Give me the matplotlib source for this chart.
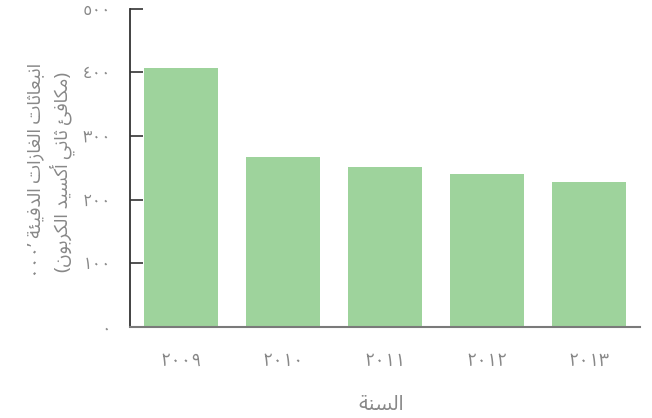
import re

import matplotlib
matplotlib.use("Agg")
import matplotlib.pyplot as plt
from matplotlib import font_manager

# greenhouse gas emissions per year ('000 t CO2e)
years = ["٢٠٠٩", "٢٠١٠", "٢٠١١", "٢٠١٢", "٢٠١٣"]
emissions = [407, 267, 251, 240, 227]
yticks = [0, 100, 200, 300, 400, 500]
ytick_labels = ["٠", "١٠٠", "٢٠٠", "٣٠٠", "٤٠٠", "٥٠٠"]

ylabel_lines = ["انبعاثات الغازات الدفيئة ’٠٠٠", "(مكافئ ثاني أكسيد الكربون)"]
xlabel = "السنة"

# presentation form start code (isolated) and number of forms per letter
FORMS = {
    "ا": (0xFE8D, 2), "أ": (0xFE83, 2), "ب": (0xFE8F, 4), "ة": (0xFE93, 2),
    "ت": (0xFE95, 4), "ث": (0xFE99, 4), "د": (0xFEA9, 2), "ر": (0xFEAD, 2),
    "ز": (0xFEAF, 2), "س": (0xFEB1, 4), "ع": (0xFEC9, 4), "غ": (0xFECD, 4),
    "ف": (0xFED1, 4), "ك": (0xFED9, 4), "ل": (0xFEDD, 4), "م": (0xFEE1, 4),
    "ن": (0xFEE5, 4), "و": (0xFEED, 2), "ي": (0xFEF1, 4), "ئ": (0xFE89, 4),
}
DIGITS = "٠١٢٣٤٥٦٧٨٩"
MIRROR = {"(": ")", ")": "("}


def shape(text):
    out = []
    for i, ch in enumerate(text):
        if ch not in FORMS:
            out.append(ch)
            continue
        base, n = FORMS[ch]
        prev = text[i - 1] if i > 0 else ""
        nxt = text[i + 1] if i + 1 < len(text) else ""
        join_prev = prev in FORMS and FORMS[prev][1] == 4
        join_next = n == 4 and nxt in FORMS
        if join_prev and join_next:
            off = 3
        elif join_prev:
            off = 1
        elif join_next:
            off = 2
        else:
            off = 0
        out.append(chr(base + off))
    return "".join(out)


def rtl(text):
    # matplotlib lays text out left to right, so shape and flip it here
    s = shape(text)[::-1]
    s = "".join(MIRROR.get(c, c) for c in s)
    return re.sub("[%s]+" % DIGITS, lambda m: m.group(0)[::-1], s)


names = {f.name for f in font_manager.fontManager.ttflist}
families = [n for n in ["Noto Sans Arabic", "Noto Sans Arabic UI"] if n in names]
plt.rcParams["font.family"] = families + ["DejaVu Sans"]

text_grey = "#888888"
bar_green = "#9ed39c"

W, H = 652, 418
fig = plt.figure(figsize=(W / 100, H / 100), dpi=100)
ax = fig.add_axes([0.2, 0.2175, 0.7816, 0.762])

x = range(len(years))
ax.bar(x, emissions, width=0.725, color=bar_green, zorder=2)

ax.set_xlim(-0.5, 4.5)
ax.set_ylim(0, 500)
ax.set_xticks(list(x))
ax.set_xticklabels(years, fontsize=13, color=text_grey)
ax.set_yticks(yticks)
ax.set_yticklabels(ytick_labels, fontsize=12, color=text_grey)

ax.tick_params(axis="x", length=0, pad=18)
ax.tick_params(axis="y", direction="in", length=9, width=1.2, color="#333333", pad=14)

for side in ["top", "right"]:
    ax.spines[side].set_visible(False)
ax.spines["left"].set_color("#333333")
ax.spines["left"].set_linewidth(1.3)
ax.spines["bottom"].set_color("#7a7a7a")
ax.spines["bottom"].set_linewidth(1.5)
ax.spines["bottom"].set_zorder(3)

# two-line y label, each line placed on its own
fig.text(35 / W, 1 - 170 / H, rtl(ylabel_lines[0]), rotation=90, fontsize=13.5,
         color=text_grey, ha="center", va="center")
fig.text(62 / W, 1 - 172 / H, rtl(ylabel_lines[1]), rotation=90, fontsize=13.5,
         color=text_grey, ha="center", va="center")
fig.text(381 / W, 1 - 405 / H, rtl(xlabel), fontsize=15, color=text_grey,
         ha="center", va="center")

fig.savefig("out.png", dpi=100)
